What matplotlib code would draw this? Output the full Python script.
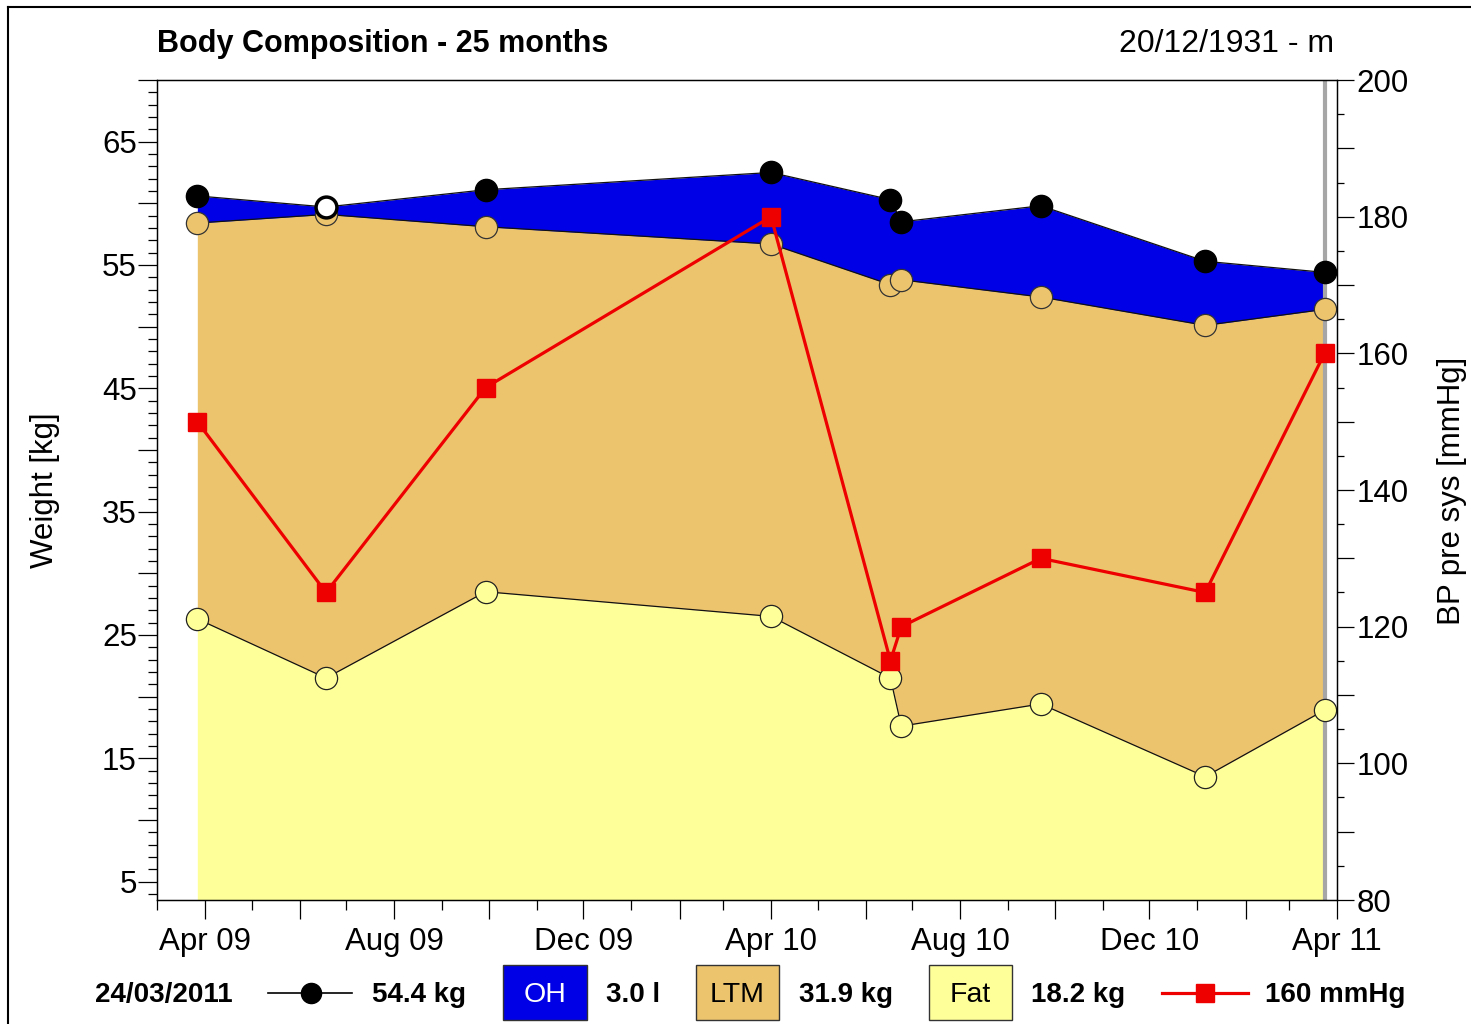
import datetime as dt

import matplotlib
matplotlib.use('Agg')
import matplotlib.pyplot as plt
import matplotlib.dates as mdates
from matplotlib.ticker import MultipleLocator, FuncFormatter
from matplotlib.patches import Rectangle
from matplotlib.lines import Line2D

plt.rcParams['font.family'] = ['Liberation Sans', 'DejaVu Sans']

dates = [dt.date(2009, 3, 27), dt.date(2009, 6, 18), dt.date(2009, 9, 29),
         dt.date(2010, 4, 1), dt.date(2010, 6, 17), dt.date(2010, 6, 24),
         dt.date(2010, 9, 22), dt.date(2011, 1, 6), dt.date(2011, 3, 24)]
total_weight = [60.6, 59.7, 61.1, 62.5, 60.3, 58.5, 59.8, 55.3, 54.4]
ltm_plus_fat = [58.4, 59.1, 58.1, 56.7, 53.4, 53.8, 52.4, 50.1, 51.4]
fat_mass = [26.3, 21.5, 28.5, 26.5, 21.5, 17.6, 19.4, 13.5, 18.9]
bp_sys = [150, 125, 155, 180, 115, 120, 130, 125, 160]
hollow_points = [1]   # weight marker drawn open

title = 'Body Composition - 25 months'
patient = '20/12/1931 - m'
legend_date = '24/03/2011'
legend_weight = '54.4 kg'
legend_oh = '3.0 l'
legend_ltm = '31.9 kg'
legend_fat = '18.2 kg'
legend_bp = '160 mmHg'

BLUE = '#0000e6'
TAN = '#edc46e'
YELLOW = '#ffff99'
RED = '#ee0000'
GREY = '#a6a6a6'

W, H = 1471, 1024
fig = plt.figure(figsize=(W / 100, H / 100), dpi=100)


def fx(px):
    return px / W


def fy(py):
    return 1 - py / H


ax = fig.add_axes([fx(157), fy(900), fx(1337) - fx(157), fy(80) - fy(900)])

# stacked areas
ax.fill_between(dates, 0, fat_mass, color=YELLOW, lw=0, zorder=1)
ax.fill_between(dates, fat_mass, ltm_plus_fat, color=TAN, lw=0, zorder=1)
ax.fill_between(dates, ltm_plus_fat, total_weight, color=BLUE, lw=0, zorder=1)
for series in (fat_mass, ltm_plus_fat, total_weight):
    ax.plot(dates, series, color='#111111', lw=0.9, zorder=2)

ax.axvline(dates[-1], color=GREY, lw=3, zorder=1.5)

ax.plot(dates, fat_mass, 'o', ms=16, mfc=YELLOW, mec='#222222', mew=0.9, zorder=3)
ax.plot(dates, ltm_plus_fat, 'o', ms=16, mfc=TAN, mec='#333333', mew=0.9, zorder=3)
solid = [i for i in range(len(dates)) if i not in hollow_points]
ax.plot([dates[i] for i in solid], [total_weight[i] for i in solid], 'o',
        ms=16, mfc='black', mec='black', zorder=4)
ax.plot([dates[i] for i in hollow_points], [total_weight[i] for i in hollow_points], 'o',
        ms=15, mfc='white', mec='black', mew=2.5, zorder=4)

ax.set_xlim(dt.date(2009, 3, 1), dt.date(2011, 4, 1))
ax.set_ylim(3.5, 70)

# x ticks: long every 2 months, labelled every 4
ax.xaxis.set_major_locator(mdates.MonthLocator(bymonth=[2, 4, 6, 8, 10, 12]))
ax.xaxis.set_minor_locator(mdates.MonthLocator(bymonth=[1, 3, 5, 7, 9, 11]))
ax.xaxis.set_major_formatter(FuncFormatter(
    lambda v, pos: mdates.num2date(v).strftime('%b %y')
    if mdates.num2date(v).month in (4, 8, 12) else ''))

ax.yaxis.set_major_locator(MultipleLocator(5))
ax.yaxis.set_minor_locator(MultipleLocator(1))
ax.yaxis.set_major_formatter(FuncFormatter(
    lambda v, pos: f'{int(round(v))}' if int(round(v)) % 10 == 5 else ''))

ax.tick_params(axis='x', which='major', length=13.5, width=0.9, labelsize=22.5, pad=6)
ax.tick_params(axis='x', which='minor', length=7, width=0.9)
ax.tick_params(axis='y', which='major', length=13.5, width=0.9, labelsize=22.5, pad=1)
ax.tick_params(axis='y', which='minor', length=6.5, width=0.9)
for sp in ax.spines.values():
    sp.set_linewidth(0.9)

# blood pressure on right axis
ax2 = ax.twinx()
ax2.plot(dates, bp_sys, color=RED, lw=2.3, marker='s', ms=13, mfc=RED, mec=RED, zorder=5)
ax2.set_ylim(80, 200)
ax2.yaxis.set_major_locator(MultipleLocator(10))
ax2.yaxis.set_minor_locator(MultipleLocator(5))
ax2.yaxis.set_major_formatter(FuncFormatter(
    lambda v, pos: f'{int(round(v))}' if int(round(v)) % 20 == 0 else ''))
ax2.tick_params(axis='y', which='major', length=12, width=0.9, labelsize=22.5, pad=2)
ax2.tick_params(axis='y', which='minor', length=5, width=0.9)
for sp in ax2.spines.values():
    sp.set_linewidth(0.9)

# titles and axis labels
fig.text(fx(157), fy(44), title, fontsize=22, fontweight='bold', ha='left', va='center')
fig.text(fx(1334), fy(44), patient, fontsize=23, ha='right', va='center')
fig.text(fx(45), fy(490), 'Weight [kg]', fontsize=22.5, rotation=90, ha='center', va='center')
fig.text(fx(1452), fy(491), 'BP pre sys [mmHg]', fontsize=22.5, rotation=90,
         ha='center', va='center')

# legend row
ly = fy(993)
ty = fy(995)
fig.text(fx(95), ty, legend_date, fontsize=20, fontweight='bold', ha='left', va='center')
fig.add_artist(Line2D([fx(268), fx(352)], [ly, ly], color='black', lw=1.2,
                      transform=fig.transFigure))
fig.add_artist(Line2D([fx(311)], [ly], marker='o', ms=14.5, color='black',
                      transform=fig.transFigure))
fig.text(fx(372), ty, legend_weight, fontsize=20, fontweight='bold', ha='left', va='center')

boxes = [(503, 587, BLUE, 'OH', 'white', legend_oh, 606),
         (696, 779, TAN, 'LTM', 'black', legend_ltm, 799),
         (929, 1012, YELLOW, 'Fat', 'black', legend_fat, 1031)]
for x0, x1, col, name, tcol, val, vx in boxes:
    fig.add_artist(Rectangle((fx(x0), fy(1020)), fx(x1) - fx(x0), fy(965) - fy(1020),
                             facecolor=col, edgecolor='#333333', lw=1,
                             transform=fig.transFigure))
    fig.text(fx((x0 + x1) / 2), ty, name, fontsize=20.5, color=tcol, ha='center', va='center')
    fig.text(fx(vx), ty, val, fontsize=20, fontweight='bold', ha='left', va='center')

fig.add_artist(Line2D([fx(1162), fx(1248)], [ly, ly], color=RED, lw=2.3,
                      transform=fig.transFigure))
fig.add_artist(Line2D([fx(1205)], [ly], marker='s', ms=12.5, color=RED,
                      transform=fig.transFigure))
fig.text(fx(1265), ty, legend_bp, fontsize=20, fontweight='bold', ha='left', va='center')

# outer frame (top and left edges visible)
fig.add_artist(Line2D([fx(8), 1.0], [fy(7), fy(7)], color='black', lw=1.5,
                      transform=fig.transFigure))
fig.add_artist(Line2D([fx(8), fx(8)], [fy(7), 0.0], color='black', lw=1.5,
                      transform=fig.transFigure))

fig.savefig('out.png', dpi=100)
